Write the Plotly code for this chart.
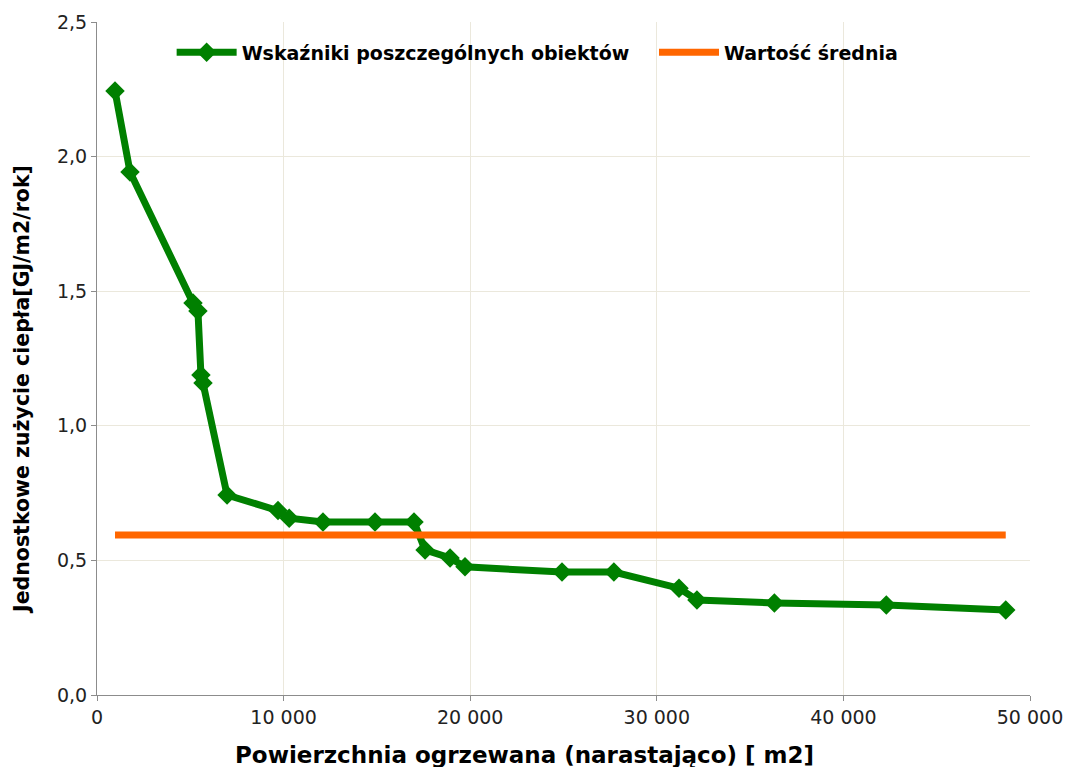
import plotly.graph_objects as go

# Cumulative heated area [m2] and unit heat consumption [GJ/m2/year] per building
area_cum = [965, 1770, 5145, 5410, 5570, 5680, 6970, 9700, 10300, 12110, 14900,
            16990, 17580, 18920, 19720, 24920, 27700, 31190, 32150, 36300, 42300, 48700]
unit_use = [2.244, 1.943, 1.456, 1.426, 1.189, 1.159, 0.743, 0.685, 0.657, 0.643, 0.643,
            0.643, 0.539, 0.509, 0.476, 0.457, 0.457, 0.397, 0.353, 0.342, 0.334, 0.316]
mean_value = 0.594

series_name = "Wskaźniki poszczególnych obiektów"
mean_name = "Wartość średnia"
x_title = "Powierzchnia ogrzewana (narastająco) [ m2]"
y_title = "Jednostkowe zużycie ciepła[GJ/m2/rok]"

font_family = "DejaVu Sans, Verdana, sans-serif"
legend_font = dict(family=font_family, size=19, color="#000000", weight="bold")

fig = go.Figure()
fig.add_trace(go.Scatter(
    x=area_cum, y=unit_use, mode="lines+markers", name=series_name,
    line=dict(color="#008000", width=7),
    marker=dict(symbol="diamond", size=15, color="#008000"),
    legend="legend",
))
fig.add_trace(go.Scatter(
    x=[area_cum[0], area_cum[-1]], y=[mean_value, mean_value],
    mode="lines", name=mean_name,
    line=dict(color="#ff6600", width=7),
    legend="legend2",
))

fig.update_layout(
    width=1065, height=767,
    margin=dict(l=97, r=35, t=22, b=72),
    paper_bgcolor="white", plot_bgcolor="white",
    separators=", ",
    font=dict(family=font_family, size=16, color="#000000"),
    showlegend=True,
    legend=dict(
        orientation="h", x=0.080, xanchor="left", y=0.955, yanchor="middle",
        font=legend_font, bgcolor="rgba(255,255,255,0)", itemwidth=60,
    ),
    legend2=dict(
        orientation="h", x=0.597, xanchor="left", y=0.955, yanchor="middle",
        font=legend_font, bgcolor="rgba(255,255,255,0)", itemwidth=60,
    ),
    xaxis=dict(
        range=[0, 50000], tickmode="linear", tick0=0, dtick=10000,
        tickformat=",d", automargin=False,
        showgrid=True, gridcolor="#ebe8dc", gridwidth=1,
        showline=True, linecolor="#8c8c8c", linewidth=1,
        ticks="outside", ticklen=5, tickcolor="#8c8c8c",
        zeroline=False,
        tickfont=dict(size=19, color="#222222"),
    ),
    yaxis=dict(
        range=[0, 2.5], tickmode="linear", tick0=0, dtick=0.5,
        tickformat=".1f", automargin=False,
        showgrid=True, gridcolor="#ebe8dc", gridwidth=1,
        showline=True, linecolor="#8c8c8c", linewidth=1,
        ticks="outside", ticklen=5, tickcolor="#8c8c8c",
        zeroline=False,
        tickfont=dict(size=19, color="#222222"),
    ),
    annotations=[
        dict(text=x_title, xref="paper", yref="paper", x=0.4577, y=-0.089,
             xanchor="center", yanchor="middle", showarrow=False,
             font=dict(family=font_family, size=23, weight="bold", color="#000000")),
        dict(text=y_title, xref="paper", yref="paper", x=-0.0804, y=0.4547,
             xanchor="center", yanchor="middle", showarrow=False, textangle=-90,
             font=dict(family=font_family, size=20.5, weight="bold", color="#000000")),
    ],
)

fig.write_html("out.html")
